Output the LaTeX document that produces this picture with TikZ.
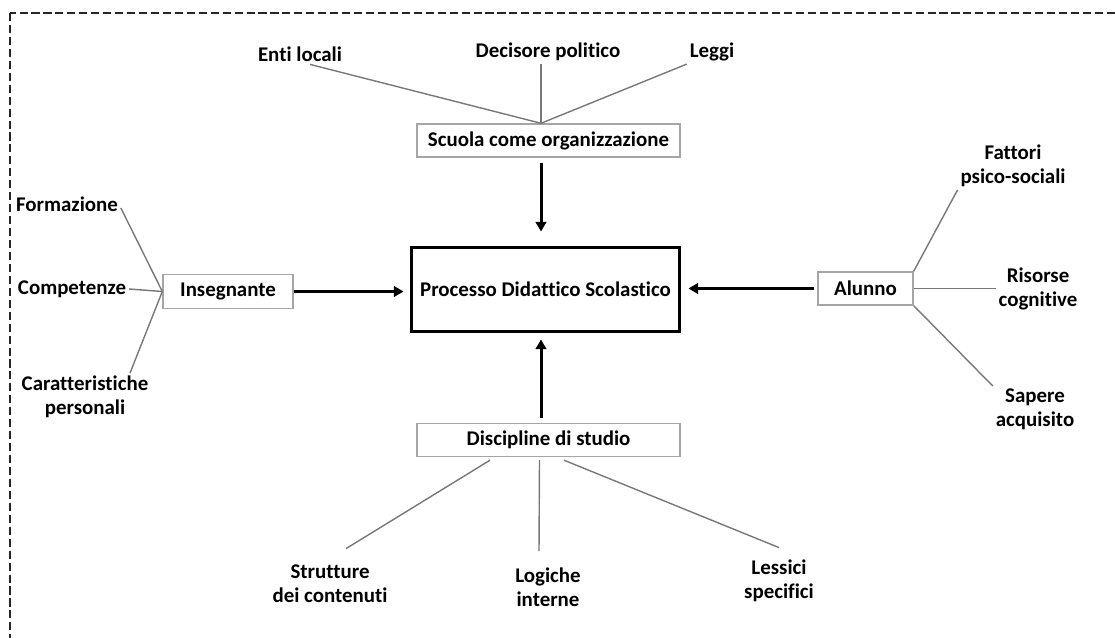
\documentclass[tikz,border=0pt]{standalone}
\usepackage{fontspec}
\setmainfont{Carlito}[Ligatures=NoCommon]
\usetikzlibrary{arrows.meta,positioning}
\definecolor{boxgray}{RGB}{165,165,165}
\definecolor{linegray}{RGB}{120,120,120}

\begin{document}
\begin{tikzpicture}[x=0.02cm, y=-0.02cm,
  every node/.style={font=\fontsize{11.9}{13.6}\selectfont\bfseries, align=center, inner sep=1.5pt},
  smallbox/.style={draw=boxgray, line width=0.8pt, minimum height=0.66cm},
  mainbox/.style={draw=black, line width=1.7pt, minimum width=5.38cm, minimum height=1.7cm},
  branch/.style={draw=linegray, line width=0.8pt},
  flow/.style={draw=black, line width=1.7pt, -{Triangle[length=5.5pt,width=6pt]}},
  borderline/.style={draw=black!85, line width=1.7pt, dash pattern=on 4.6pt off 2.2pt}]
\useasboundingbox (0,0) rectangle (1115,638);
\clip (0,0) rectangle (1115,638);
% Frame
\draw[borderline] (10,13) rectangle (1140,660);
\coordinate (axis) at (541,0);
% Boxes
\node[mainbox] (proc) at (545.5,289.5) {Processo Didattico Scolastico};
\node[smallbox, minimum width=5.26cm] (scuola) at (548.5,140.5) {Scuola come organizzazione};
\node[smallbox, minimum width=5.26cm] (disc) at (548.5,440) {Discipline di studio};
\node[smallbox, minimum width=2.6cm, minimum height=0.68cm] (insegnante) at (228,291.5) {Insegnante};
\node[smallbox, minimum width=1.9cm] (alunno) at (865.5,288.5) {Alunno};
% Labels
\node (enti) at (300,54) {Enti locali};
\node (decisore) at (548,52) {Decisore politico};
\node (leggi) at (712,52) {Leggi};
\node (formazione) at (67,204) {Formazione};
\node (competenze) at (72,289) {Competenze};
\node (carat) at (85,397) {Caratteristiche\\personali};
\node (fattori) at (1013,166) {Fattori\\psico-sociali};
\node (risorse) at (1038,288.5) {Risorse\\cognitive};
\node (sapere) at (1035,409.5) {Sapere\\acquisito};
\node (strutture) at (330,583.5) {Strutture\\dei contenuti};
\node (logiche) at (548,587.5) {Logiche\\interne};
\node (lessici) at (779,580.5) {Lessici\\specifici};
% Branches
\draw[branch] ([xshift=0.2cm]enti.south) -- (scuola.north -| axis);
\draw[branch] (decisore.south -| axis) -- (scuola.north -| axis);
\draw[branch] (leggi.south west) -- (scuola.north -| axis);
\draw[branch] ([yshift=-0.08cm]formazione.east) -- (insegnante.west);
\draw[branch] (competenze.east) -- (insegnante.west);
\draw[branch] ([xshift=0.9cm]carat.north) -- (insegnante.west);
\draw[branch] (alunno.north east) -- (fattori.south west);
\draw[branch] (alunno.east) -- (risorse.west);
\draw[branch] (alunno.south east) -- (sapere.north west);
\draw[branch] ([xshift=-1.17cm, yshift=-0.06cm]disc.south) -- ([xshift=0.32cm, yshift=0.26cm]strutture.north);
\draw[branch] ([xshift=-0.18cm, yshift=-0.06cm]disc.south) -- ([xshift=-0.18cm, yshift=0.28cm]logiche.north);
\draw[branch] ([xshift=0.31cm, yshift=-0.06cm]disc.south) -- ([yshift=0.18cm]lessici.north);
% Arrows
\draw[flow, shorten <=0.1cm, shorten >=0.28cm] (scuola.south -| axis) -- (proc.north -| axis);
\draw[flow, shorten <=0.1cm, shorten >=0.12cm] (disc.north -| axis) -- (proc.south -| axis);
\draw[flow, shorten >=0.12cm] (insegnante.east) -- (proc.west |- insegnante.east);
\draw[flow, shorten <=0.06cm, shorten >=0.14cm] (alunno.west) -- (proc.east |- alunno.west);
\end{tikzpicture}
\end{document}
